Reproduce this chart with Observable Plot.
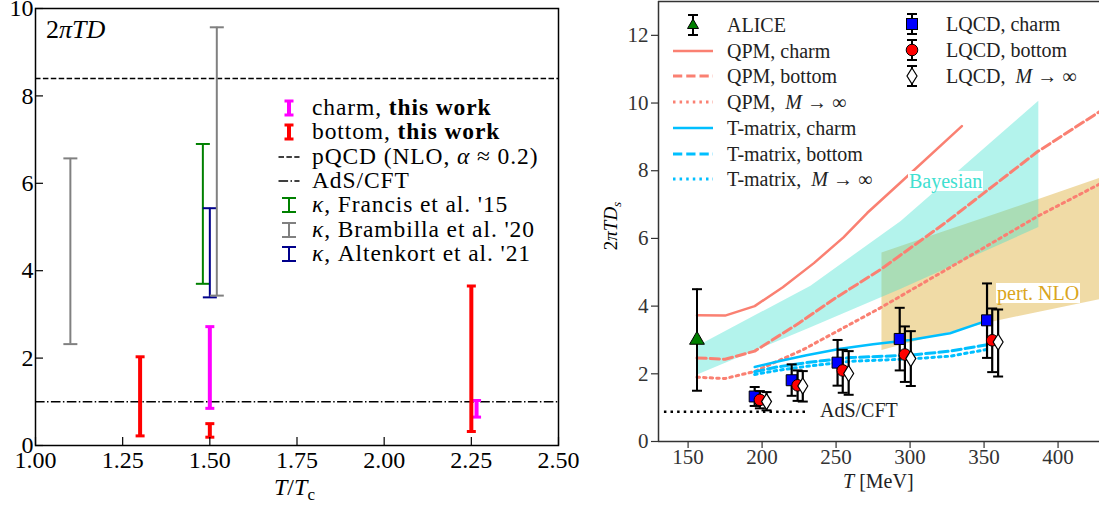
<!DOCTYPE html>
<html><head><meta charset="utf-8">
<script src="https://cdn.jsdelivr.net/npm/d3@7"></script>
<script src="https://cdn.jsdelivr.net/npm/@observablehq/plot@0.6"></script>
<style>
body{margin:0;background:#fff;}
#wrap{position:relative;width:1099px;height:507px;overflow:hidden;font-family:"Liberation Serif",serif;color:#000;}
#left,#right{position:absolute;top:0;}
#left{left:0px}
#right{left:590px}
.lab{position:absolute;white-space:nowrap;line-height:1;}
.lab svg{vertical-align:middle;}
</style></head>
<body><div id="wrap"><div id="left"></div><div id="right"></div></div>
<script>
// ---------------- Left panel data ----------------
const leftXTicks = [1.0, 1.25, 1.5, 1.75, 2.0, 2.25, 2.5];
const leftYTicks = [0, 2, 4, 6, 8, 10];
const pqcdValue = 8.4;
const adsValueLeft = 1.0;
const charmThisX = [1.5, 2.265];
const charmThisLo = [0.85, 0.65];
const charmThisHi = [2.72, 1.03];
const bottomThisX = [1.3, 1.5, 2.25];
const bottomThisLo = [0.22, 0.19, 0.32];
const bottomThisHi = [2.03, 0.5, 3.65];
const francisX = [1.48];
const francisLo = [3.7];
const francisHi = [6.9];
const brambillaX = [1.1, 1.52];
const brambillaLo = [2.32, 3.43];
const brambillaHi = [6.57, 9.57];
const altenkortX = [1.5];
const altenkortLo = [3.39];
const altenkortHi = [5.43];

// ---------------- Right panel data ----------------
const rightXTicks = [150, 200, 250, 300, 350, 400];
const rightYTicks = [0, 2, 4, 6, 8, 10, 12];
const aliceT = [156];
const aliceV = [3.0];
const aliceLo = [1.5];
const aliceHi = [4.5];

const qpmCharmT = [156, 175, 195, 214, 235, 255, 271, 293, 335];
const qpmCharmV = [3.73, 3.72, 4.0, 4.56, 5.27, 6.03, 6.75, 7.63, 9.32];
const qpmBottomT = [156, 175, 195, 225, 250, 280, 325, 386, 430];
const qpmBottomV = [2.47, 2.43, 2.67, 3.5, 4.25, 5.08, 6.5, 8.56, 9.8];
const qpmInfT = [156, 175, 195, 228, 280, 334, 386, 430];
const qpmInfV = [1.9, 1.86, 2.07, 2.72, 3.95, 5.32, 6.65, 7.65];

const tmCharmT = [195, 212, 230, 253, 275, 300, 327, 352];
const tmCharmV = [2.2, 2.38, 2.55, 2.74, 2.87, 3.0, 3.2, 3.57];
const tmBottomT = [195, 210, 230, 260, 300, 327, 352];
const tmBottomV = [2.06, 2.2, 2.33, 2.48, 2.55, 2.67, 2.86];
const tmInfT = [195, 210, 230, 260, 300, 327, 352];
const tmInfV = [1.98, 2.1, 2.22, 2.37, 2.44, 2.52, 2.72];

const adsRightT = [134, 232];
const adsRightV = 0.88;

const bayesT = [156, 233, 294, 387];
const bayesLo = [1.96, 3.36, 4.5, 6.32];
const bayesHi = [2.8, 4.59, 6.5, 10.05];
const nloT = [281, 320, 359, 430];
const nloLo = [2.69, 3.15, 3.56, 4.21];
const nloHi = [5.57, 6.15, 6.73, 7.8];

const lqcdCharmT = [195, 220, 251, 293, 352];
const lqcdCharmV = [1.33, 1.81, 2.33, 3.03, 3.58];
const lqcdCharmLo = [1.05, 1.35, 1.65, 2.1, 2.47];
const lqcdCharmHi = [1.61, 2.28, 3.0, 3.95, 4.67];
const lqcdBottomT = [198.5, 224, 254.5, 296.5, 355.5];
const lqcdBottomV = [1.23, 1.66, 2.1, 2.57, 2.99];
const lqcdBottomLo = [0.98, 1.2, 1.44, 1.76, 2.05];
const lqcdBottomHi = [1.49, 2.1, 2.71, 3.4, 3.93];
const lqcdInfT = [203, 227.5, 258.5, 300.5, 359.5];
const lqcdInfV = [1.18, 1.64, 2.01, 2.45, 2.94];
const lqcdInfLo = [0.92, 1.18, 1.38, 1.64, 1.92];
const lqcdInfHi = [1.46, 2.08, 2.67, 3.26, 3.9];

// ---------------- helpers ----------------
const hline = {draw(ctx, size){const r = Math.sqrt(size/Math.PI); ctx.moveTo(-r,0); ctx.lineTo(r,0);}};
const thinDiamond = {draw(ctx, size){const r = Math.sqrt(size/Math.PI); ctx.moveTo(0,-r); ctx.lineTo(r*0.62,0); ctx.lineTo(0,r); ctx.lineTo(-r*0.62,0); ctx.closePath();}};
const zip = (xs, ys) => xs.map((x,i)=>({x, y: ys[i]}));
function errbars(xs, lo, hi, color, lw, capR, capW){
  const d = xs.map((x,i)=>({x, lo: lo[i], hi: hi[i]}));
  return [
    Plot.ruleX(d, {x:"x", y1:"lo", y2:"hi", stroke:color, strokeWidth:lw}),
    Plot.dot(d, {x:"x", y:"lo", symbol:hline, r:capR, stroke:color, strokeWidth:capW}),
    Plot.dot(d, {x:"x", y:"hi", symbol:hline, r:capR, stroke:color, strokeWidth:capW})
  ];
}
function band(T, lo, hi, fill, op){
  return Plot.areaY(T.map((t,i)=>({t, lo: lo[i], hi: hi[i]})), {x:"t", y1:"lo", y2:"hi", fill, fillOpacity:op, clip:true});
}
function curve(T, V, stroke, w, dash){
  return Plot.line(zip(T, V), {x:"x", y:"y", stroke, strokeWidth:w, strokeDasharray:dash, clip:true});
}

// ---------------- Left plot ----------------
const leftPlot = Plot.plot({
  width: 590, height: 507,
  marginLeft: 35, marginRight: 32, marginTop: 8, marginBottom: 62,
  x: {domain: [1, 2.5]},
  y: {domain: [0, 10]},
  style: {fontFamily: "'Liberation Serif', serif", fontSize: "24px", color: "black", background: "transparent"},
  marks: [
    Plot.ruleY([pqcdValue], {stroke:"black", strokeWidth:1.5, strokeDasharray:"5.5,2.4"}),
    Plot.ruleY([adsValueLeft], {stroke:"black", strokeWidth:1.5, strokeDasharray:"9.6,2.4,1.5,2.4"}),
    ...errbars(francisX, francisLo, francisHi, "green", 2, 7, 2),
    ...errbars(altenkortX, altenkortLo, altenkortHi, "darkblue", 2, 7, 2),
    ...errbars(brambillaX, brambillaLo, brambillaHi, "gray", 2, 7, 2),
    ...errbars(charmThisX, charmThisLo, charmThisHi, "#ff00ff", 4, 4.5, 3),
    ...errbars(bottomThisX, bottomThisLo, bottomThisHi, "#ff0000", 4, 4.5, 3),
    Plot.frame({stroke:"black", strokeWidth:1.5}),
    Plot.axisX({ticks: leftXTicks, tickFormat: d3.format(".2f"), tickSize: -8, tickPadding: 13, label: null, strokeWidth: 1.2}),
    Plot.axisY({ticks: leftYTicks, tickSize: -8, tickPadding: 10, label: null, strokeWidth: 1.2})
  ]
});
document.getElementById("left").appendChild(leftPlot);

// ---------------- Right plot ----------------
const rightXDomain = [130, 428];
const rightYDomain = [0, 13];
const salmon = "#fa8072", sky = "#00bfff";
const rightPlot = Plot.plot({
  width: 509, height: 507,
  marginLeft: 68, marginRight: 0, marginTop: 1, marginBottom: 66,
  x: {domain: rightXDomain},
  y: {domain: rightYDomain},
  style: {fontFamily: "'Liberation Serif', serif", fontSize: "21px", color: "#333", background: "transparent"},
  marks: [
    band(nloT, nloLo, nloHi, "goldenrod", 0.4),
    band(bayesT, bayesLo, bayesHi, "turquoise", 0.4),
    curve(qpmCharmT, qpmCharmV, salmon, 2.5, null),
    curve(qpmBottomT, qpmBottomV, salmon, 3, "9.25,4"),
    curve(qpmInfT, qpmInfV, salmon, 3, "2.5,4.1"),
    curve(tmCharmT, tmCharmV, sky, 2.5, null),
    curve(tmBottomT, tmBottomV, sky, 3, "9.25,4"),
    curve(tmInfT, tmInfV, sky, 3, "2.5,4.1"),
    Plot.ruleY([adsRightV], {x1: adsRightT[0], x2: adsRightT[1], stroke:"black", strokeWidth:2.5, strokeDasharray:"2.5,4.1"}),
    ...errbars(aliceT, aliceLo, aliceHi, "black", 2, 5, 2),
    Plot.dot(zip(aliceT, aliceV), {x:"x", y:"y", symbol:"triangle", r:5.5, fill:"green", stroke:"black", strokeWidth:1}),
    ...errbars(lqcdCharmT, lqcdCharmLo, lqcdCharmHi, "black", 2.2, 5, 2),
    Plot.dot(zip(lqcdCharmT, lqcdCharmV), {x:"x", y:"y", symbol:"square", r:6.2, fill:"blue", stroke:"black", strokeWidth:1}),
    ...errbars(lqcdBottomT, lqcdBottomLo, lqcdBottomHi, "black", 2.2, 5, 2),
    Plot.dot(zip(lqcdBottomT, lqcdBottomV), {x:"x", y:"y", symbol:"circle", r:5.8, fill:"red", stroke:"black", strokeWidth:1}),
    ...errbars(lqcdInfT, lqcdInfLo, lqcdInfHi, "black", 2.2, 5, 2),
    Plot.dot(zip(lqcdInfT, lqcdInfV), {x:"x", y:"y", symbol:thinDiamond, r:8, fill:"white", stroke:"black", strokeWidth:1.2}),
    Plot.ruleX([rightXDomain[0]], {stroke:"#333", strokeWidth:1.5}),
    Plot.ruleY(rightYDomain, {stroke:"#333", strokeWidth:1.5}),
    Plot.axisX({ticks: rightXTicks, tickSize: 7, tickPadding: 1, label: null, strokeWidth: 1.2}),
    Plot.axisY({ticks: rightYTicks, tickSize: 7, tickPadding: 3, label: null, strokeWidth: 1.2})
  ]
});
document.getElementById("right").appendChild(rightPlot);

// ---------------- Overlay text & legends ----------------
const wrap = document.getElementById("wrap");
function place(html, x, y, style){
  const d = document.createElement("div");
  d.className = "lab";
  d.style.cssText = `left:${x}px;top:${y}px;transform:translateY(-50%);` + (style || "");
  d.innerHTML = html;
  wrap.appendChild(d);
  return d;
}
function thickI(c){return `<svg width="24" height="20"><line x1="12" x2="12" y1="3" y2="17" stroke="${c}" stroke-width="4"/><line x1="7.5" x2="16.5" y1="3" y2="3" stroke="${c}" stroke-width="3"/><line x1="7.5" x2="16.5" y1="17" y2="17" stroke="${c}" stroke-width="3"/></svg>`;}
function thinI(c){return `<svg width="24" height="20"><line x1="12" x2="12" y1="3" y2="17" stroke="${c}" stroke-width="2"/><line x1="5" x2="19" y1="3" y2="3" stroke="${c}" stroke-width="2"/><line x1="5" x2="19" y1="17" y2="17" stroke="${c}" stroke-width="2"/></svg>`;}
function dashSw(dash){return `<svg width="24" height="20"><line x1="1.5" x2="22.5" y1="10" y2="10" stroke="black" stroke-width="1.5" stroke-dasharray="${dash}"/></svg>`;}

// left panel texts
place(`2<i>πTD</i>`, 46, 30, "font-size:26px;");
place(`<i>T</i>/<i>T</i><sub style="font-size:17px;font-style:normal">c</sub>`, 274, 489, "font-size:24px;");
const leftLeg = [
  [thickI("#ff00ff"), `charm, <b>this work</b>`],
  [thickI("#ff0000"), `bottom, <b>this work</b>`],
  [dashSw("5.5,2.4"), `pQCD (NLO, <i>α</i> ≈ 0.2)`],
  [dashSw("9.6,2.4,1.5,2.4"), `AdS/CFT`],
  [thinI("green"), `<i>κ</i>, Francis et al. '15`],
  [thinI("gray"), `<i>κ</i>, Brambilla et al. '20`],
  [thinI("darkblue"), `<i>κ</i>, Altenkort et al. '21`]
];
leftLeg.forEach(([sw, txt], i) => {
  const y = 108 + i*24.3;
  place(sw, 277, y);
  place(txt, 312, y, "font-size:23.5px;letter-spacing:0.9px;line-height:0.9;");
});

// right panel texts
place(`2<i>πTD</i><sub style="font-size:13px"><i>s</i></sub>`, 612, 226, "font-size:19px;transform:translate(-50%,-50%) rotate(-90deg);");
place(`<i>T</i> [MeV]`, 843, 481, "font-size:20px;color:#222;");
place(`Bayesian`, 908, 181, "font-size:20px;color:turquoise;background:#fff;padding:0 1px;");
place(`pert. NLO`, 996, 293, "font-size:20px;color:goldenrod;background:#fff;padding:0 1px;");
place(`AdS/CFT`, 820, 410, "font-size:20px;color:#222;");

function lineSw(c, dash, w){return `<svg width="44" height="20"><line x1="2" x2="42" y1="10" y2="10" stroke="${c}" stroke-width="${w}" ${dash ? `stroke-dasharray="${dash}"` : ""}/></svg>`;}
function markSw(shape){
  let m = "";
  if (shape === "tri") m = `<path d="M0,-6 L5.5,3.5 L-5.5,3.5 Z" fill="green" stroke="black" stroke-width="1"/>`;
  if (shape === "sq") m = `<rect x="-5.5" y="-5.5" width="11" height="11" fill="blue" stroke="black" stroke-width="1"/>`;
  if (shape === "ci") m = `<circle r="5.8" fill="red" stroke="black" stroke-width="1"/>`;
  if (shape === "di") m = `<path d="M0,-8 L5,0 L0,8 L-5,0 Z" fill="white" stroke="black" stroke-width="1.2"/>`;
  return `<svg width="20" height="26"><g transform="translate(10,13)"><line y1="-10" y2="10" stroke="black" stroke-width="2"/><line x1="-5" x2="5" y1="-10" y2="-10" stroke="black" stroke-width="2"/><line x1="-5" x2="5" y1="10" y2="10" stroke="black" stroke-width="2"/>${m}</g></svg>`;
}
const rightLeg = [
  [markSw("tri"), `ALICE`, true],
  [lineSw(salmon, null, 2.5), `QPM, charm`],
  [lineSw(salmon, "9.25,4", 3), `QPM, bottom`],
  [lineSw(salmon, "2.5,4.1", 3), `QPM, &nbsp;<i>M</i> → ∞`],
  [lineSw(sky, null, 2.5), `T-matrix, charm`],
  [lineSw(sky, "9.25,4", 3), `T-matrix, bottom`],
  [lineSw(sky, "2.5,4.1", 3), `T-matrix, &nbsp;<i>M</i> → ∞`]
];
rightLeg.forEach(([sw, txt, isMark], i) => {
  const y = 25 + i*25.7;
  place(sw, isMark ? 683 : 671, y);
  place(txt, 727, y, "font-size:20px;color:#222;");
});
const rightLeg2 = [
  [markSw("sq"), `LQCD, charm`],
  [markSw("ci"), `LQCD, bottom`],
  [markSw("di"), `LQCD, &nbsp;<i>M</i> → ∞`]
];
rightLeg2.forEach(([sw, txt], i) => {
  const y = 24 + i*26;
  place(sw, 902, y);
  place(txt, 946, y, "font-size:20px;color:#222;");
});
</script>
</body></html>
